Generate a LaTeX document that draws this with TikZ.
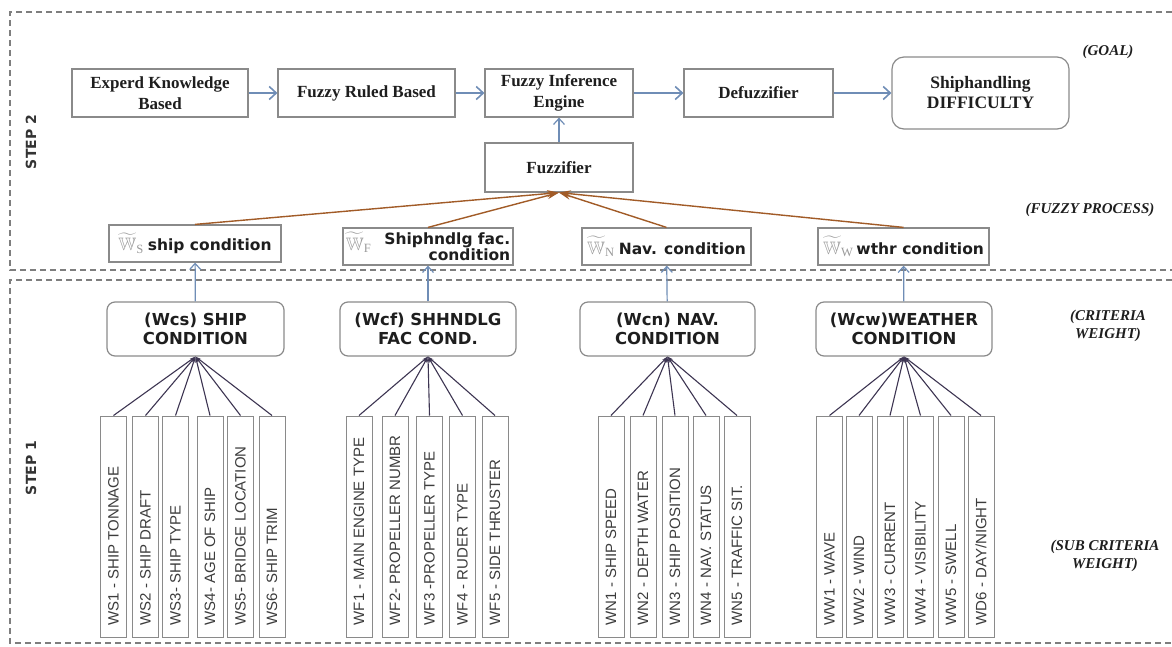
\documentclass[tikz,border=0pt]{standalone}
\usepackage{fontspec}
\usepackage{amssymb}
\usetikzlibrary{arrows.meta}
\setmainfont{Liberation Serif}
\newfontfamily\dvs{DejaVu Sans}
\newfontfamily\lsans{Liberation Sans}
\definecolor{boxgray}{HTML}{8A8A8A}
\definecolor{txt}{HTML}{1E1E1E}
\definecolor{subtxt}{HTML}{3C3C3C}
\definecolor{bluear}{HTML}{6F8DB6}
\definecolor{brownar}{HTML}{A15B27}
\definecolor{fanc}{HTML}{3D3552}
\definecolor{dashc}{HTML}{7E7E7E}
\definecolor{wsym}{HTML}{9A9A9A}
\definecolor{steptxt}{HTML}{333333}
\newcommand{\wsymb}[1]{{\color{wsym}\fontsize{18}{18}\selectfont$\widetilde{\mathbb{W}}_{\mathrm{#1}}$}}
\begin{document}
\begin{tikzpicture}[x=1pt,y=-1pt,
  topbox/.style={draw=boxgray, line width=1.2pt, inner sep=0pt, align=center,
    font=\fontsize{17}{21}\selectfont\bfseries, text=txt, minimum height=48pt},
  wbox/.style={draw=boxgray, line width=1.2pt, inner sep=2pt, text=txt,
    font=\dvs\bfseries\fontsize{15.5}{14}\selectfont, minimum height=37pt},
  critbox/.style={draw=boxgray, line width=1.2pt, rounded corners=8pt, align=center, text=txt,
    font=\dvs\bfseries\fontsize{16.5}{19}\selectfont, minimum height=54pt, inner sep=0pt},
  subbox/.style={draw=boxgray, line width=1pt, minimum width=26pt, minimum height=221pt, inner sep=0pt},
  subtext/.style={rotate=90, anchor=west, font=\lsans\fontsize{15}{17}\selectfont, text=subtxt, inner sep=0pt},
  flow/.style={draw=bluear, line width=1.6pt, -{Straight Barb[length=7pt,width=13pt]}},
  upar/.style={draw=bluear, line width=1.2pt, -{Straight Barb[length=6pt,width=11pt]}},
  brownarr/.style={draw=brownar, line width=1.4pt, -{Stealth[length=12pt,width=7pt]}},
  fan/.style={draw=fanc, line width=1.1pt, -{Stealth[length=6pt,width=3pt]}},
  frame/.style={draw=dashc, line width=1.8pt, dash pattern=on 6pt off 4pt},
  side/.style={font=\fontsize{15}{18}\selectfont\bfseries\itshape, align=center, text=txt},
  steplbl/.style={rotate=90, font=\dvs\bfseries\fontsize{14}{16}\selectfont, text=steptxt}
]
\useasboundingbox (0,0) rectangle (1172,646);

% frames
\draw[frame] (1172,12) -- (10,12) -- (10,270) -- (1172,270);
\draw[frame] (1172,280) -- (10,280) -- (10,643) -- (1172,643);

\node[steplbl] (step2) at (31,142) {STEP 2};
\node[steplbl] (step1) at (31,468) {STEP 1};

% top row
\node[topbox, minimum width=176pt] (exp) at (160,93) {Experd Knowledge\\Based};
\node[topbox, minimum width=177pt] (rule) at (366.5,93) {Fuzzy Ruled Based};
\node[topbox, minimum width=148pt] (inf) at (559,93) {Fuzzy Inference\\Engine};
\node[topbox, minimum width=149pt] (defz) at (758.5,93) {Defuzzifier};
\node[topbox, minimum width=177pt, minimum height=72pt, rounded corners=12pt,
  font=\fontsize{17.5}{20}\selectfont\bfseries] (goal) at (980.5,93) {Shiphandling\\DIFFICULTY};
\node[topbox, minimum width=148pt, minimum height=49pt] (fuzz) at (559,167.5) {Fuzzifier};

\draw[flow] (exp) -- (rule);
\draw[flow] (rule) -- (inf);
\draw[flow] (inf) -- (defz);
\draw[flow] (defz) -- (goal);
\draw[upar] (fuzz) -- (inf);

% weighted condition boxes
\node[wbox, minimum width=172pt] (ws) at (195,243.5) {\wsymb{S}\hspace{4pt}ship condition};
\node[wbox, minimum width=170pt, inner sep=1pt] (wf) at (428,246.5)
  {\wsymb{F}\hspace{3pt}\parbox[c]{136pt}{\raggedleft Shiphndlg fac.\\condition}};
\node[wbox, minimum width=169pt] (wn) at (666.5,246.5) {\wsymb{N}\hspace{4pt}Nav. condition};
\node[wbox, minimum width=171pt] (ww) at (903.5,246.5) {\wsymb{W}\hspace{3pt}wthr condition};

\foreach \b in {ws,wf,wn,ww}{\draw[brownarr] (\b.north) -- (fuzz.south);}

% criteria boxes
\node[critbox, minimum width=177pt] (wcs) at (195.5,329) {(Wcs) SHIP\\CONDITION};
\node[critbox, minimum width=176pt] (wcf) at (428,329) {(Wcf) SHHNDLG\\FAC COND.};
\node[critbox, minimum width=175pt] (wcn) at (667.5,329) {(Wcn) NAV.\\CONDITION};
\node[critbox, minimum width=176pt] (wcw) at (904,329) {(Wcw)WEATHER\\CONDITION};

\draw[upar] (wcs) -- (ws);
\draw[upar] (wcf) -- (wf);
\draw[upar] (wcn) -- (wn);
\draw[upar] (wcw) -- (ww);

% sub criteria
\foreach \nm/\p/\cx/\t in {
  ws1/wcs/113.5/{WS1 - SHIP TONNAGE},
  ws2/wcs/145.5/{WS2 - SHIP DRAFT},
  ws3/wcs/175.5/{WS3- SHIP TYPE},
  ws4/wcs/210/{WS4- AGE OF SHIP},
  ws5/wcs/240.5/{WS5- BRIDGE LOCATION},
  ws6/wcs/272/{WS6- SHIP TRIM},
  wf1/wcf/359/{WF1 - MAIN ENGINE TYPE},
  wf2/wcf/395/{WF2- PROPELLER NUMBR},
  wf3/wcf/429.5/{WF3 -PROPELLER TYPE},
  wf4/wcf/462.5/{WF4 - RUDER TYPE},
  wf5/wcf/495/{WF5 - SIDE THRUSTER},
  wn1/wcn/611/{WN1 - SHIP SPEED},
  wn2/wcn/643/{WN2 - DEPTH WATER},
  wn3/wcn/675/{WN3 - SHIP POSITION},
  wn4/wcn/706/{WN4 - NAV. STATUS},
  wn5/wcn/737/{WN5 - TRAFFIC SIT.},
  ww1/wcw/829.5/{WW1 - WAVE},
  ww2/wcw/859/{WW2 - WIND},
  ww3/wcw/890/{WW3 - CURRENT},
  ww4/wcw/920.5/{WW4 - VISIBILITY},
  ww5/wcw/951/{WW5 - SWELL},
  ww6/wcw/981/{WD6 - DAY/NIGHT}}{
  \node[subbox] (\nm) at (\cx,526.5) {};
  \node[subtext] (\nm-t) at ([yshift=12pt]\nm.south) {\t};
  \draw[fan] (\nm.north) -- (\p.south);
}

% side labels
\node[side] (lgoal) at (1108,52) {(GOAL)};
\node[side] (lfuzzy) at (1090,210) {(FUZZY PROCESS)};
\node[side] (lcrit) at (1108,326) {(CRITERIA\\WEIGHT)};
\node[side] (lsub) at (1105,556) {(SUB CRITERIA\\WEIGHT)};
\end{tikzpicture}
\end{document}
